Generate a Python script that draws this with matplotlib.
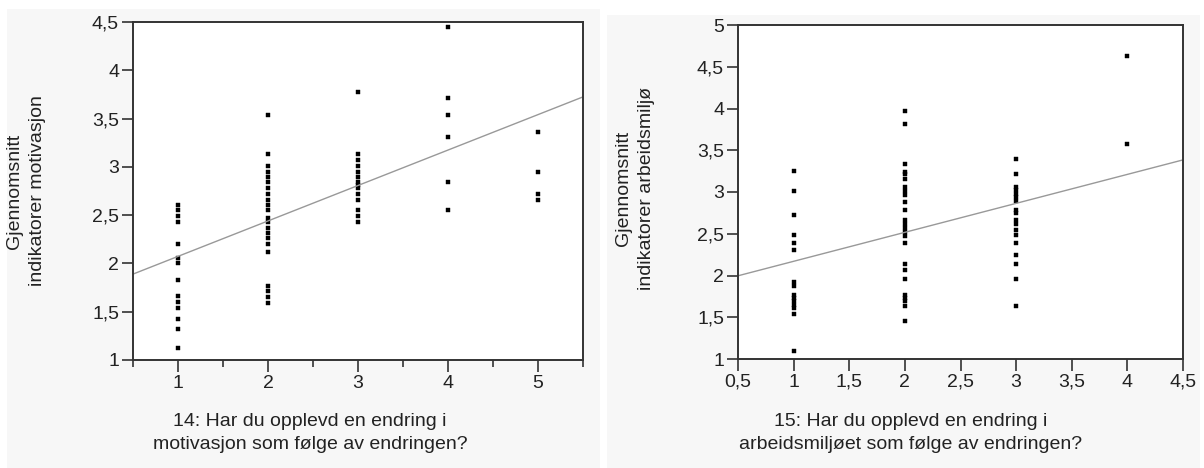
import numpy as np
import matplotlib
matplotlib.use("Agg")
import matplotlib.pyplot as plt
from matplotlib.patches import Rectangle

plt.rcParams['font.family'] = ['Liberation Sans', 'DejaVu Sans']

# --- data: venstre panel (motivasjon) ---
mot_x1 = [2.61, 2.55, 2.49, 2.43, 2.20, 2.06, 2.00, 1.83, 1.66, 1.60, 1.54, 1.42, 1.32, 1.12]
mot_x2 = [3.54, 3.13, 3.01, 2.95, 2.90, 2.84, 2.78, 2.72, 2.66, 2.61, 2.55, 2.47, 2.43,
          2.37, 2.31, 2.26, 2.20, 2.12, 1.77, 1.71, 1.65, 1.59]
mot_x3 = [3.77, 3.13, 3.07, 3.01, 2.95, 2.90, 2.84, 2.81, 2.78, 2.72, 2.66, 2.55, 2.49, 2.43]
mot_x4 = [4.45, 3.71, 3.54, 3.31, 2.84, 2.55]
mot_x5 = [3.36, 2.95, 2.72, 2.66]
mot_line = (1.706, 0.367)   # intercept, stigning

# --- data: hoyre panel (arbeidsmiljo) ---
arb_x1 = [3.25, 3.01, 2.72, 2.48, 2.39, 2.30, 1.92, 1.88, 1.77, 1.73, 1.69, 1.65, 1.61, 1.54, 1.10]
arb_x2 = [3.97, 3.81, 3.34, 3.24, 3.21, 3.15, 3.06, 3.01, 2.97, 2.88, 2.79, 2.67, 2.62,
          2.57, 2.52, 2.47, 2.39, 2.14, 2.06, 1.96, 1.77, 1.73, 1.69, 1.64, 1.45]
arb_x3 = [3.39, 3.21, 3.06, 3.02, 2.98, 2.94, 2.89, 2.79, 2.75, 2.66, 2.62, 2.55, 2.48,
          2.39, 2.25, 2.14, 1.96, 1.63]
arb_x4 = [4.63, 3.58]
arb_line = (1.823, 0.347)

W, H = 1204, 468
fig = plt.figure(figsize=(W / 100, H / 100), dpi=100, facecolor='white')

# gra bakgrunn bak hvert panel
fig.patches.append(Rectangle((7 / W, 0), 593 / W, 1 - 9 / H, transform=fig.transFigure,
                             facecolor='#f7f7f7', edgecolor='none', zorder=-10))
fig.patches.append(Rectangle((607 / W, 0), 593 / W, 1 - 15 / H, transform=fig.transFigure,
                             facecolor='#f7f7f7', edgecolor='none', zorder=-10))

txt = '#222222'
fs = 14


def comma(v):
    s = f"{v:g}"
    return s.replace('.', ',')


def style(ax):
    ax.set_facecolor('white')
    for sp in ax.spines.values():
        sp.set_linewidth(1.4)
        sp.set_color('#333333')
    ax.tick_params(axis='both', which='major', length=8, width=1.2, color='#333333',
                   labelsize=fs, labelcolor=txt, pad=2)
    ax.tick_params(axis='both', which='minor', length=5, width=1.2, color='#333333')


def scatter_cols(ax, cols):
    for xv, ys in cols:
        ax.plot([xv] * len(ys), ys, linestyle='none', marker='s', ms=2.3, mew=0.3,
                color='black', mec='black')


# ---------- venstre ----------
ax1 = fig.add_axes([133 / W, 1 - 360 / H, 450 / W, 338 / H])
style(ax1)
ax1.tick_params(axis='x', which='major', length=8.5)
scatter_cols(ax1, [(1, mot_x1), (2, mot_x2), (3, mot_x3), (4, mot_x4), (5, mot_x5)])
xx = np.array([0.5, 5.5])
ax1.plot(xx, mot_line[0] + mot_line[1] * xx, color='#999999', lw=1.0)
ax1.set_xlim(0.5, 5.5)
ax1.set_ylim(1, 4.5)
ax1.set_xticks([1, 2, 3, 4, 5])
ax1.set_xticks([0.5, 1.5, 2.5, 3.5, 4.5, 5.5], minor=True)
yt1 = [1, 1.5, 2, 2.5, 3, 3.5, 4, 4.5]
ax1.set_yticks(yt1)
ax1.set_yticklabels([comma(v) for v in yt1])
ax1.set_xticklabels(['1', '2', '3', '4', '5'])

fig.text(26 / W, 1 - 191 / H, 'Gjennomsnitt\nindikatorer motivasjon', rotation=90,
         ha='center', va='center', fontsize=fs, color=txt, linespacing=1.4)
fig.text(310 / W, 1 - 433 / H, '14: Har du opplevd en endring i\nmotivasjon som følge av endringen?',
         ha='center', va='center', fontsize=fs, color=txt, linespacing=1.5)

# ---------- hoyre ----------
ax2 = fig.add_axes([738 / W, 1 - 359 / H, 445 / W, 334 / H])
style(ax2)
ax2.tick_params(axis='x', which='major', length=8.5)
scatter_cols(ax2, [(1, arb_x1), (2, arb_x2), (3, arb_x3), (4, arb_x4)])
xx = np.array([0.5, 4.5])
ax2.plot(xx, arb_line[0] + arb_line[1] * xx, color='#999999', lw=1.0)
ax2.set_xlim(0.5, 4.5)
ax2.set_ylim(1, 5)
xt2 = [0.5, 1, 1.5, 2, 2.5, 3, 3.5, 4, 4.5]
ax2.set_xticks(xt2)
ax2.set_xticklabels([comma(v) for v in xt2])
yt2 = [1, 1.5, 2, 2.5, 3, 3.5, 4, 4.5, 5]
ax2.set_yticks(yt2)
ax2.set_yticklabels([comma(v) for v in yt2])

fig.text(635 / W, 1 - 188 / H, 'Gjennomsnitt\nindikatorer arbeidsmiljø', rotation=90,
         ha='center', va='center', fontsize=fs, color=txt, linespacing=1.4)
fig.text(911 / W, 1 - 433 / H, '15: Har du opplevd en endring i\narbeidsmiljøet som følge av endringen?',
         ha='center', va='center', fontsize=fs, color=txt, linespacing=1.5)

fig.savefig('out.png', dpi=100, facecolor='white')
